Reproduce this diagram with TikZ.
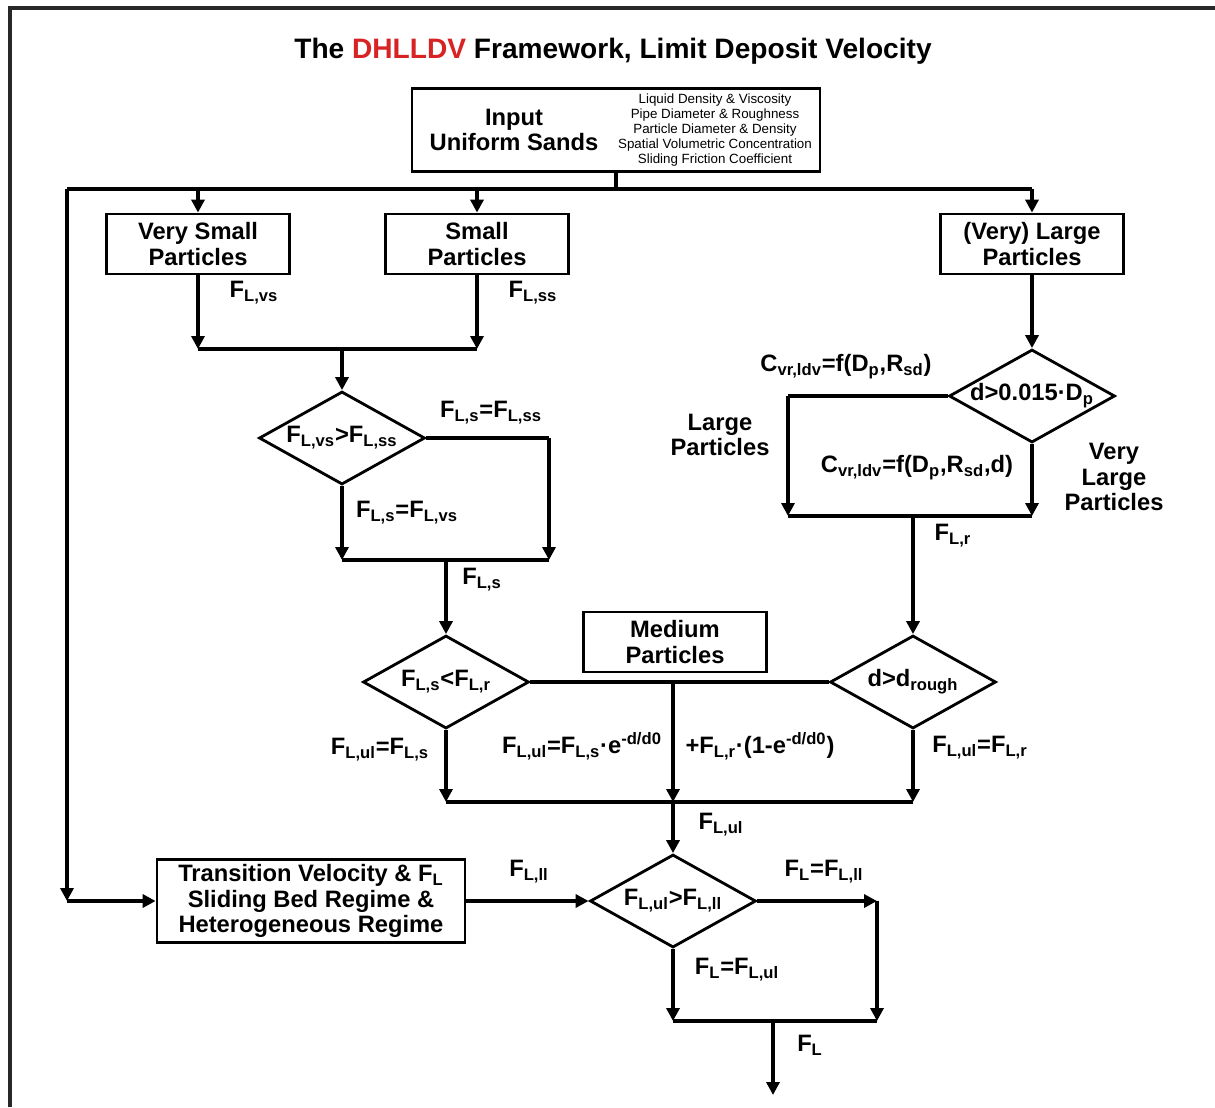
\documentclass[tikz,border=0pt]{standalone}
\usepackage{fontspec}
\setmainfont{Liberation Sans}
\usetikzlibrary{arrows.meta, shapes.geometric}
\definecolor{titlered}{RGB}{215,35,35}
\definecolor{framegray}{RGB}{40,40,40}
\newcommand{\sbs}[1]{\textsubscript{#1}}
\newcommand{\sps}[1]{\textsuperscript{#1}}

\begin{document}
\begin{tikzpicture}[x=0.02cm, y=-0.02cm,
    font=\bfseries\fontsize{13.5}{14.7}\selectfont,
    box/.style={draw, line width=1.6pt, minimum width=3.66cm, minimum height=1.2cm,
                align=center, inner sep=0pt},
    cond/.style={draw, diamond, line width=1.6pt, minimum width=3.32cm,
                 minimum height=1.86cm, inner sep=0pt},
    lbl/.style={inner sep=0pt, align=center},
    fl/.style={-{Triangle[length=2.6mm, width=2.6mm]}, line width=1.9pt},
    ln/.style={line width=1.9pt}
]
    \useasboundingbox (0,0) rectangle (1215,1107);
    \draw[line width=1.8pt, framegray] (10,1107) -- (10,8) -- (1215,8);

    \node[lbl, font=\bfseries\fontsize{16}{19}\selectfont] (title) at (613,51)
        {The \textcolor{titlered}{DHLLDV} Framework, Limit Deposit Velocity};

    % input
    \node[box, minimum width=8.16cm, minimum height=1.66cm] (input) at (616,130) {};
    \node[lbl] (inhead) at (514,130) {Input\\Uniform Sands};
    \node[lbl, font=\mdseries\fontsize{7.6}{8.45}\selectfont] (inlist) at (715,130)
        {Liquid Density \& Viscosity\\Pipe Diameter \& Roughness\\Particle Diameter \& Density\\
         Spatial Volumetric Concentration\\Sliding Friction Coefficient};

    % particle classes
    \node[box] (vsmall) at (198,244) {Very Small\\Particles};
    \node[box] (small)  at (477,244) {Small\\Particles};
    \node[box] (vlarge) at (1032,244) {(Very) Large\\Particles};
    \node[box] (medium) at (675,642) {Medium\\Particles};
    \node[box, minimum width=6.16cm, minimum height=1.66cm] (trans) at (311,901)
        {Transition Velocity \& F\sbs{L}\\Sliding Bed Regime \&\\Heterogeneous Regime};

    % decisions
    \node[cond] (c1) at (342,438) {\makebox[0pt]{F\sbs{L,vs}>F\sbs{L,ss}}};
    \node[cond] (c2) at (446,682) {\makebox[0pt]{F\sbs{L,s}<F\sbs{L,r}}};
    \node[cond] (c3) at (1032,396) {\makebox[0pt]{d>0.015·D\sbs{p}}};
    \node[cond] (c4) at (913,682) {\makebox[0pt]{d>d\sbs{rough}}};
    \node[cond] (c5) at (673,901) {\makebox[0pt]{F\sbs{L,ul}>F\sbs{L,ll}}};

    \coordinate (busL) at (67,189);
    \coordinate (busR) at (1032,189);
    \coordinate (j1L) at (198,349);
    \coordinate (j1R) at (477,349);
    \coordinate (j1)  at (342,349);
    \coordinate (c1r) at (549,438);
    \coordinate (j2L) at (342,560);
    \coordinate (j2R) at (549,560);
    \coordinate (j2)  at (446,560);
    \coordinate (c3l) at (788,396);
    \coordinate (j3L) at (788,516);
    \coordinate (j3R) at (1032,516);
    \coordinate (j3)  at (913,516);
    \coordinate (mj)  at (673,682);
    \coordinate (j4L) at (446,802);
    \coordinate (j4R) at (913,802);
    \coordinate (j4)  at (673,802);
    \coordinate (c5r) at (877,901);
    \coordinate (j5L) at (673,1021);
    \coordinate (j5R) at (877,1021);
    \coordinate (j5)  at (773,1021);
    \coordinate (out) at (773,1095);

    % top bus
    \draw[ln] (input) -- (input |- busL);
    \draw[ln] (busL) -- (busR);
    \draw[fl] (vsmall |- busL) -- (vsmall);
    \draw[fl] (small |- busL) -- (small);
    \draw[fl] (busR) -- (vlarge);
    \draw[fl] (busL) -- (busL |- trans);
    \draw[fl] (busL |- trans) -- (trans);

    % small side
    \draw[fl] (vsmall) -- (j1L);
    \draw[fl] (small) -- (j1R);
    \draw[ln] (j1L) -- (j1R);
    \draw[fl] (j1) -- (c1);
    \draw[ln] (c1.east) -- (c1r);
    \draw[fl] (c1r) -- (j2R);
    \draw[fl] (c1) -- (j2L);
    \draw[ln] (j2L) -- (j2R);
    \draw[fl] (j2) -- (c2);

    % large side
    \draw[fl] (vlarge) -- (c3);
    \draw[ln] (c3.west) -- (c3l);
    \draw[fl] (c3l) -- (j3L);
    \draw[fl] (c3) -- (j3R);
    \draw[ln] (j3L) -- (j3R);
    \draw[fl] (j3) -- (c4);

    % upper limit
    \draw[ln] (c2.east) -- (c4.west);
    \draw[fl] (mj) -- (j4);
    \draw[fl] (c2) -- (j4L);
    \draw[fl] (c4) -- (j4R);
    \draw[ln] (j4L) -- (j4R);
    \draw[fl] (j4) -- (c5);

    % final
    \draw[fl] (trans) -- (c5);
    \draw[fl] (c5.east) -- (c5r);
    \draw[fl] (c5r) -- (j5R);
    \draw[fl] (c5) -- (j5L);
    \draw[ln] (j5L) -- (j5R);
    \draw[fl] (j5) -- (out);

    % labels
    \node[lbl] (lvs)   at (254,293) {F\sbs{L,vs}};
    \node[lbl] (lss)   at (533,293) {F\sbs{L,ss}};
    \node[lbl] (lsss)  at (491,413) {F\sbs{L,s}=F\sbs{L,ss}};
    \node[lbl] (lsvs)  at (407,513) {F\sbs{L,s}=F\sbs{L,vs}};
    \node[lbl] (ls)    at (482,580) {F\sbs{L,s}};
    \node[lbl] (lcv1)  at (846,367) {C\sbs{vr,ldv}=f(D\sbs{p},R\sbs{sd})};
    \node[lbl] (llp)   at (720,435) {Large\\Particles};
    \node[lbl] (lcv2)  at (917,468) {C\sbs{vr,ldv}=f(D\sbs{p},R\sbs{sd},d)};
    \node[lbl] (lvlp)  at (1114,477) {Very\\Large\\Particles};
    \node[lbl] (lr)    at (953,536) {F\sbs{L,r}};
    \node[lbl] (luls)  at (380,750) {F\sbs{L,ul}=F\sbs{L,s}};
    \node[lbl] (lmix1) at (582,746) {F\sbs{L,ul}=F\sbs{L,s}·e\sps{-d/d0}};
    \node[lbl] (lmix2) at (760,746) {+F\sbs{L,r}·(1-e\sps{-d/d0})};
    \node[lbl] (lulr)  at (980,748) {F\sbs{L,ul}=F\sbs{L,r}};
    \node[lbl] (lul)   at (721,825) {F\sbs{L,ul}};
    \node[lbl] (lll)   at (529,872) {F\sbs{L,ll}};
    \node[lbl] (lfll)  at (824,872) {F\sbs{L}=F\sbs{L,ll}};
    \node[lbl] (lful)  at (737,970) {F\sbs{L}=F\sbs{L,ul}};
    \node[lbl] (lf)    at (810,1045) {F\sbs{L}};
\end{tikzpicture}
\end{document}
